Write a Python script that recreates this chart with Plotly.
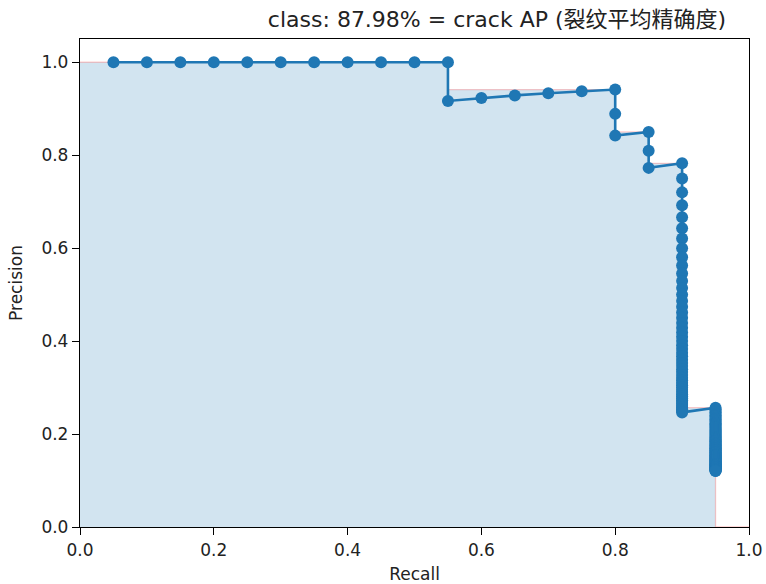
import plotly.graph_objects as go

# ---- data ----
title_text = "class: 87.98% = crack AP (裂纹平均精确度)"

recall_head = [0.05, 0.10, 0.15, 0.20, 0.25, 0.30, 0.35, 0.40, 0.45, 0.50, 0.55,
               0.55, 0.60, 0.65, 0.70, 0.75, 0.80, 0.80, 0.80,
               0.85, 0.85, 0.85]
precision_head = [1.0, 1.0, 1.0, 1.0, 1.0, 1.0, 1.0, 1.0, 1.0, 1.0, 1.0,
                  0.9167, 0.9231, 0.9286, 0.9333, 0.9375, 0.9412, 0.8889, 0.8421,
                  0.85, 0.8095, 0.7727]

recall_level_a = 0.90
precision_at_a = [0.7826, 0.75, 0.72, 0.6923, 0.6667, 0.6429, 0.6207, 0.6, 0.5806, 0.5625,
                  0.5455, 0.5294, 0.5143, 0.5, 0.4865, 0.4737, 0.4615, 0.45, 0.4390, 0.4286,
                  0.4186, 0.4091, 0.4, 0.3913, 0.3830, 0.375, 0.3673, 0.36, 0.3529, 0.3462,
                  0.3396, 0.3333, 0.3273, 0.3214, 0.3158, 0.3103, 0.3051, 0.3, 0.2951, 0.2903,
                  0.2857, 0.2813, 0.2769, 0.2727, 0.2687, 0.2647, 0.2609, 0.2571, 0.2535, 0.25,
                  0.2466]

recall_level_b = 0.95
precision_at_b = [0.2568, 0.2533, 0.25, 0.2468, 0.2436, 0.2405, 0.2375, 0.2346, 0.2317, 0.2289,
                  0.2262, 0.2235, 0.2209, 0.2184, 0.2159, 0.2135, 0.2111, 0.2088, 0.2065, 0.2043,
                  0.2021, 0.2, 0.1979, 0.1959, 0.1939, 0.1919, 0.19, 0.1881, 0.1863, 0.1845,
                  0.1827, 0.1810, 0.1792, 0.1776, 0.1759, 0.1743, 0.1727, 0.1712, 0.1696, 0.1681,
                  0.1667, 0.1652, 0.1638, 0.1624, 0.1610, 0.1597, 0.1583, 0.1570, 0.1557, 0.1545,
                  0.1532, 0.152, 0.1508, 0.1496, 0.1484, 0.1473, 0.1462, 0.1450, 0.1439, 0.1429,
                  0.1418, 0.1407, 0.1397, 0.1387, 0.1377, 0.1367, 0.1357, 0.1348, 0.1338, 0.1329,
                  0.1319, 0.1310, 0.1301, 0.1293, 0.1284, 0.1275, 0.1267, 0.1258, 0.1250, 0.1242,
                  0.1234, 0.1226, 0.1218, 0.1210, 0.1203]

x_ticks = [0.0, 0.2, 0.4, 0.6, 0.8, 1.0]
y_ticks = [0.0, 0.2, 0.4, 0.6, 0.8, 1.0]

# ---- assemble series ----
recall = recall_head + [recall_level_a] * len(precision_at_a) + [recall_level_b] * len(precision_at_b)
precision = precision_head + precision_at_a + precision_at_b

# interpolated precision envelope (as in the VOC AP computation)
mrec = [0.0] + recall + [1.0]
mpre = [0.0] + precision + [0.0]
for i in range(len(mpre) - 2, -1, -1):
    mpre[i] = max(mpre[i], mpre[i + 1])
area_x = mrec[:-1] + [mrec[-2]] + [mrec[-1]]
area_y = mpre[:-1] + [0.0] + [mpre[-1]]

BLUE = "#1f77b4"
FONT = "DejaVu Sans, Noto Sans CJK SC, sans-serif"

fig = go.Figure()
fig.add_trace(go.Scatter(
    x=area_x, y=area_y, mode="lines", fill="tozeroy",
    fillcolor="rgba(31,119,180,0.2)",
    line=dict(color="rgba(255,0,0,0.2)", width=1.3),
    hoverinfo="skip", showlegend=False,
))
fig.add_trace(go.Scatter(
    x=recall, y=precision, mode="lines+markers",
    line=dict(color=BLUE, width=2.6),
    marker=dict(color=BLUE, size=12),
    showlegend=False,
))

axis_common = dict(
    showline=True, mirror=True, linecolor="black", linewidth=1.3,
    ticks="outside", ticklen=7, tickwidth=1.3, tickcolor="black",
    showgrid=False, zeroline=False, automargin=False,
    tickfont=dict(family=FONT, size=17, color="#222"),
    title_font=dict(family=FONT, size=17, color="#222"),
)

fig.update_layout(
    width=766, height=584,
    margin=dict(l=80, r=17, t=39, b=57),
    plot_bgcolor="white", paper_bgcolor="white",
    title=dict(text=title_text, font=dict(family=FONT, size=22, color="#222"),
               x=497 / 766, xanchor="center", xref="container",
               y=1 - 19 / 584, yanchor="middle", yref="container"),
    xaxis=dict(range=[0, 1], tickvals=x_ticks, ticktext=[f"{v:.1f}" for v in x_ticks],
               title=dict(text="Recall", standoff=12), **axis_common),
    yaxis=dict(range=[0, 1.05], tickvals=y_ticks, ticktext=[f"{v:.1f}" for v in y_ticks],
               title=dict(text="Precision", standoff=14), **axis_common),
)

fig.write_html("out.html")
